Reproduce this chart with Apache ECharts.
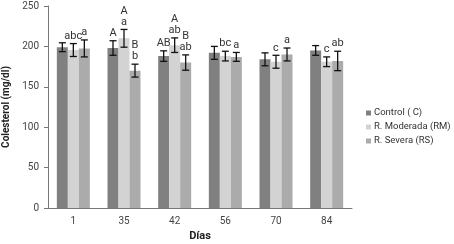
<!DOCTYPE html>
<html>
<head>
<meta charset="utf-8">
<script src="https://cdn.jsdelivr.net/npm/echarts@6/dist/echarts.min.js"></script>
<style>
  html, body { margin: 0; padding: 0; background: #fff; }
  #chart { width: 454px; height: 244px; }
</style>
</head>
<body>
<div id="chart"></div>
<script>
// días de muestreo
const days = ['1', '35', '42', '56', '70', '84']
// medias de colesterol (mg/dl)
const control = [199, 198, 188, 192, 184, 195]
const moderada = [195.5, 210, 201.5, 188, 181, 181]
const severa = [197.5, 170, 180, 187, 190, 182]
// desviaciones (barras de error)
const controlErr = [5.5, 9, 6.5, 8, 8, 6]
const moderadaErr = [8, 11, 9, 6, 8, 6]
const severaErr = [10.5, 8, 9.5, 5.5, 8, 12]
// letras de significancia
const controlSig = ['', 'A', 'AB', '', '', '']
const moderadaSig = ['abc', 'A\na', 'A\nab', 'bc', 'c', 'c']
const severaSig = ['a', 'B\nb', 'B\nab', 'a', 'a', 'ab']
const yTicks = [0, 50, 100, 150, 200, 250]

const FONT = 'Roboto, "Liberation Sans", sans-serif'
const BAR_W = 11

const chart = echarts.init(document.getElementById('chart'))

// serie custom: barra de error + letras encima
function errSeries (vals, errs, sig, idx) {
  return {
    type: 'custom',
    z: 5,
    silent: true,
    data: vals.map((v, i) => [i, v, errs[i], sig[i]]),
    encode: { x: 0, y: 1 },
    renderItem (params, api) {
      const c = api.value(0)
      const v = api.value(1)
      const e = api.value(2)
      const txt = sig[params.dataIndex]
      const top = api.coord([c, v + e])
      const bot = api.coord([c, v - e])
      const x = top[0] + (idx - 1) * BAR_W
      const cap = 3.5
      const st = { stroke: '#111', lineWidth: 1.3 }
      const children = [
        { type: 'line', shape: { x1: x, y1: top[1], x2: x, y2: bot[1] }, style: st },
        { type: 'line', shape: { x1: x - cap, y1: top[1], x2: x + cap, y2: top[1] }, style: st },
        { type: 'line', shape: { x1: x - cap, y1: bot[1], x2: x + cap, y2: bot[1] }, style: st }
      ]
      if (txt) {
        children.push({
          type: 'text',
          style: {
            text: txt,
            x: x,
            y: top[1] - 2,
            align: 'center',
            verticalAlign: 'bottom',
            fill: '#333',
            font: '11px ' + FONT,
            lineHeight: 11
          }
        })
      }
      return { type: 'group', children: children }
    }
  }
}

const option = {
  animation: false,
  backgroundColor: '#fff',
  textStyle: { fontFamily: FONT },
  grid: { left: 48, right: 102, top: 6, bottom: 36, outerBoundsMode: 'none' },
  legend: {
    data: ['Control ( C)', 'R. Moderada (RM)', 'R. Severa (RS)'],
    orient: 'vertical',
    left: 361,
    top: 103,
    icon: 'rect',
    itemWidth: 5,
    itemHeight: 5,
    itemGap: 4,
    textStyle: { fontSize: 9.5, color: '#333', fontFamily: FONT, padding: [0, 0, 0, -2] }
  },
  xAxis: {
    type: 'category',
    data: days,
    name: 'Días',
    nameLocation: 'middle',
    nameGap: 22,
    nameTextStyle: { fontSize: 11, fontWeight: 'bold', color: '#222', fontFamily: FONT },
    axisLine: { lineStyle: { color: '#777' } },
    axisTick: { length: 4, lineStyle: { color: '#777' } },
    axisLabel: { fontSize: 10, color: '#444', margin: 8 }
  },
  yAxis: {
    type: 'value',
    min: 0,
    max: 250,
    interval: 50,
    name: 'Colesterol (mg/dl)',
    nameLocation: 'middle',
    nameGap: 29,
    nameTextStyle: { fontSize: 10, fontWeight: 'bold', color: '#222', fontFamily: FONT },
    axisLine: { show: true, lineStyle: { color: '#777' } },
    axisTick: { show: true, length: 4, lineStyle: { color: '#777' } },
    axisLabel: {
      fontSize: 10, color: '#444', margin: 9,
      formatter: v => (yTicks.includes(v) ? String(v) : '')
    },
    splitLine: { show: false }
  },
  series: [
    { name: 'Control ( C)', type: 'bar', data: control, barWidth: BAR_W, barGap: '0%',
      itemStyle: { color: '#808080' } },
    { name: 'R. Moderada (RM)', type: 'bar', data: moderada, barWidth: BAR_W, barGap: '0%',
      itemStyle: { color: '#d3d3d3' } },
    { name: 'R. Severa (RS)', type: 'bar', data: severa, barWidth: BAR_W, barGap: '0%',
      itemStyle: { color: '#ababab' } },
    errSeries(control, controlErr, controlSig, 0),
    errSeries(moderada, moderadaErr, moderadaSig, 1),
    errSeries(severa, severaErr, severaSig, 2)
  ]
}
chart.setOption(option)
</script>
</body>
</html>
